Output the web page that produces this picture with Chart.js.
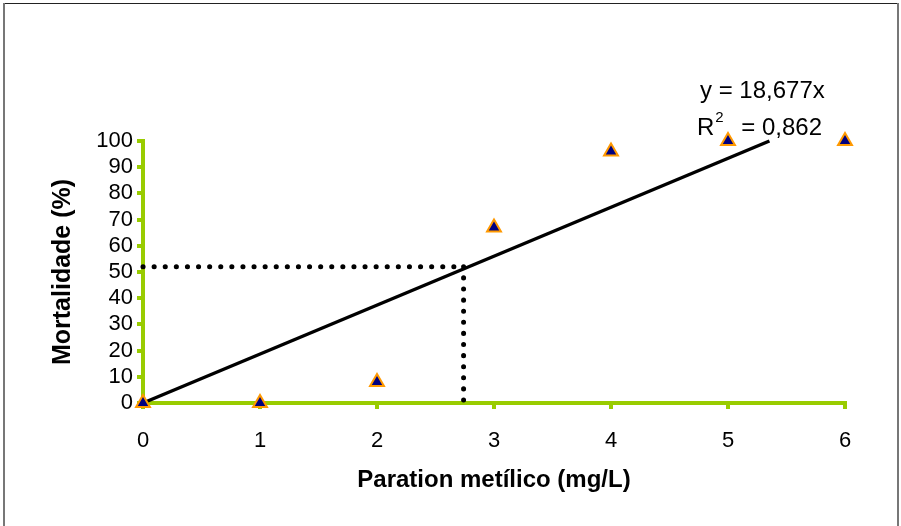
<!DOCTYPE html>
<html>
<head>
<meta charset="utf-8">
<script src="https://cdn.jsdelivr.net/npm/chart.js@4.4.0/dist/chart.umd.min.js"></script>
<style>
  html, body { margin: 0; padding: 0; background: #fff; }
  #wrap { width: 901px; height: 526px; position: relative; }
</style>
</head>
<body>
<div id="wrap"><canvas id="chart" width="901" height="526"></canvas></div>
<script>
  // observed mortality
  const doses = [0, 1, 2, 3, 4, 5, 6];
  const mortality = [0, 0, 8, 67, 96, 100, 100];

  // linear trend through origin, y = 18,677x
  const slope = 18.677;
  const trendX = [0, 5.354];

  // LC50 guide (dotted)
  const lcX = 2.74;
  const lcY = 52;

  const xTicks = [0, 1, 2, 3, 4, 5, 6];
  const yTicks = [0, 10, 20, 30, 40, 50, 60, 70, 80, 90, 100];

  const green = '#99CC00';
  const font = 'Arial, "Liberation Sans", sans-serif';

  const framePlugin = {
    id: 'frame',
    afterDraw(chart) {
      const ctx = chart.ctx;
      ctx.save();
      ctx.fillStyle = '#222';
      ctx.fillRect(3, 3, 896, 1);
      ctx.fillStyle = '#777';
      ctx.fillRect(3, 3, 2, 523);
      ctx.fillRect(897, 3, 2, 523);

      // regression label
      ctx.fillStyle = '#000';
      ctx.font = '24px ' + font;
      ctx.textBaseline = 'middle';
      ctx.textAlign = 'left';
      ctx.fillText('y = 18,677x', 700, 91);
      ctx.fillText('R', 697, 128);
      let w = ctx.measureText('R').width;
      ctx.font = '15px ' + font;
      ctx.fillText('2', 698 + w, 118);
      ctx.font = '24px ' + font;
      ctx.textAlign = 'right';
      ctx.fillText('= 0,862', 822, 128);
      ctx.restore();
    }
  };

  new Chart(document.getElementById('chart'), {
    type: 'scatter',
    data: {
      datasets: [
        {
          label: 'LC50 h',
          type: 'line',
          data: [{x: 0, y: lcY}, {x: lcX, y: lcY}],
          borderColor: '#000',
          borderWidth: 5,
          borderDash: [0.1, 11],
          borderCapStyle: 'round',
          pointRadius: 0,
          clip: false,
          order: 3
        },
        {
          label: 'LC50 v',
          type: 'line',
          data: [{x: lcX, y: lcY}, {x: lcX, y: 0}],
          borderColor: '#000',
          borderWidth: 5,
          borderDash: [0.1, 11],
          borderCapStyle: 'round',
          pointRadius: 0,
          clip: false,
          order: 3
        },
        {
          label: 'Linear',
          type: 'line',
          data: trendX.map(x => ({x: x, y: slope * x})),
          borderColor: '#000',
          borderWidth: 3.5,
          pointRadius: 0,
          clip: false,
          order: 2
        },
        {
          label: 'Mortalidade',
          data: doses.map((d, i) => ({x: d, y: mortality[i]})),
          pointStyle: 'triangle',
          pointRadius: 8,
          pointBorderWidth: 2,
          backgroundColor: '#000080',
          borderColor: '#FF9900',
          clip: false,
          order: 1
        }
      ]
    },
    options: {
      responsive: false,
      animation: false,
      layout: { padding: { left: 0, top: 141, right: 56, bottom: 0 } },
      plugins: {
        legend: { display: false },
        tooltip: { enabled: false }
      },
      scales: {
        x: {
          type: 'linear',
          min: 0, max: 6,
          afterBuildTicks: s => { s.ticks = xTicks.map(v => ({value: v})); },
          afterFit: s => { s.height = 123; },
          border: { color: green, width: 4 },
          grid: { drawOnChartArea: false, color: green, lineWidth: 4, tickLength: 6 },
          ticks: { color: '#000', autoSkip: false, maxRotation: 0, font: { family: font, size: 22 }, padding: 19 },
          title: {
            display: true,
            text: 'Paration metílico (mg/L)',
            color: '#000',
            font: { family: font, size: 24, weight: 'bold' },
            padding: { bottom: 31 }
          }
        },
        y: {
          min: 0, max: 100,
          afterBuildTicks: s => { s.ticks = yTicks.map(v => ({value: v})); },
          afterFit: s => { s.width = 143; },
          border: { color: green, width: 4 },
          grid: { drawOnChartArea: false, color: green, lineWidth: 4, tickLength: 6 },
          ticks: { color: '#000', autoSkip: false, font: { family: font, size: 22 }, padding: 4 },
          title: {
            display: true,
            text: 'Mortalidade (%)',
            color: '#000',
            font: { family: font, size: 25, weight: 'bold' },
            padding: { top: 48 }
          }
        }
      }
    },
    plugins: [framePlugin]
  });
</script>
</body>
</html>
